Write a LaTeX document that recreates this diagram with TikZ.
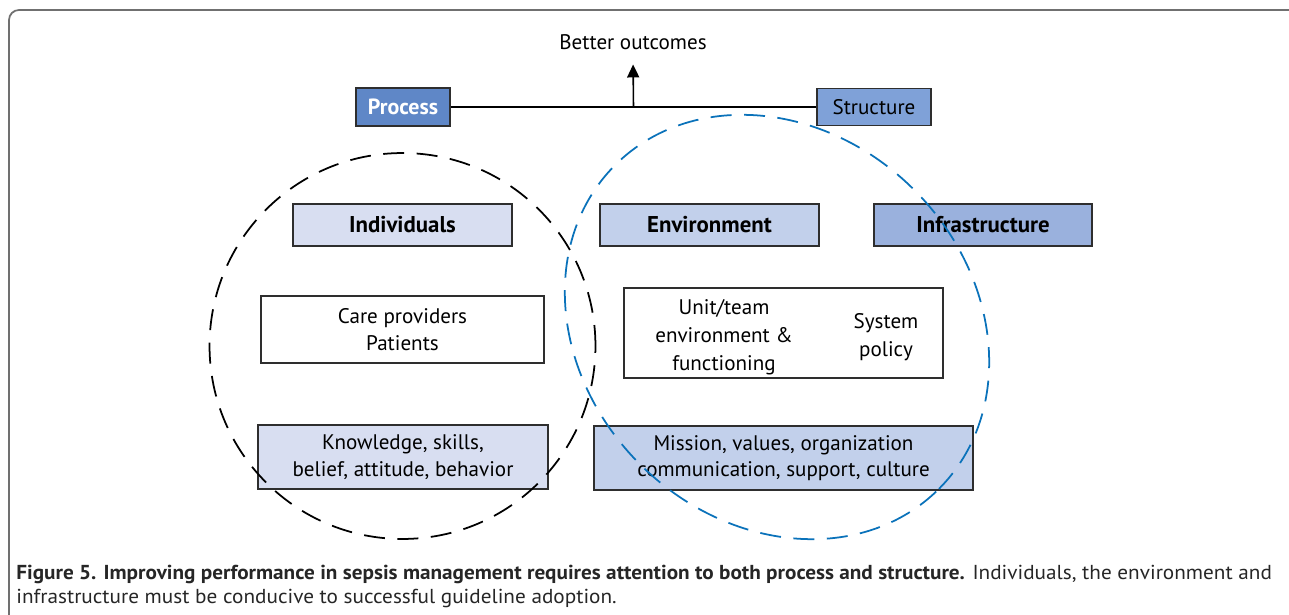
\documentclass[tikz,border=0pt]{standalone}
\usepackage{fontspec}
\setmainfont{PT Sans}
\newfontfamily\capfont[FakeStretch=1.05]{PT Sans}
\usetikzlibrary{arrows.meta,shapes.geometric,positioning}

\definecolor{procblue}{HTML}{5F87C7}
\definecolor{strucblue}{HTML}{7FA1D8}
\definecolor{infrablue}{HTML}{9AB1DD}
\definecolor{envblue}{HTML}{C2D0EB}
\definecolor{indblue}{HTML}{D8DEF1}
\definecolor{ringblue}{HTML}{0A72BA}
\definecolor{boxline}{HTML}{2E2E2E}
\definecolor{framegray}{HTML}{707070}

\newcommand{\boxfont}{\fontsize{12}{15.2}\selectfont}
\newcommand{\headfont}{\fontsize{13}{15.2}\selectfont\bfseries}

\tikzset{
  cellbox/.style={draw=boxline, line width=0.9pt, inner sep=0pt, align=center, font=\boxfont},
  headbox/.style={cellbox, minimum width=4.38cm, minimum height=0.84cm, font=\headfont},
  dashring/.style={draw, line width=1pt, dash pattern=on 0.42cm off 0.25cm, inner sep=0pt},
}

\begin{document}
\begin{tikzpicture}[x=0.02cm, y=-0.02cm]

\useasboundingbox (0,0) rectangle (1289,615);

\draw [framegray, line width=1pt, rounded corners=0.2cm] (9,615) -- (9,10) -- (1289,10);

\node [cellbox, fill=procblue, text=white, font=\fontsize{12.5}{15}\selectfont\bfseries, minimum width=1.88cm, minimum height=0.76cm] (process) at (403,107) {Process};
\node [cellbox, fill=strucblue, minimum width=2.28cm, minimum height=0.74cm] (structure) at (874,107) {Structure};
\node [anchor=base, font=\boxfont] (better) at (633,50) {Better outcomes};

\node [headbox, fill=indblue] (individuals) at (402.5,225) {Individuals};
\node [headbox, fill=envblue] (environment) at (709.5,225) {Environment};
\node [headbox, fill=infrablue, minimum width=4.36cm] (infrastructure) at (983,225) {Infrastructure};

\node [cellbox, fill=white, minimum width=5.66cm, minimum height=1.34cm] (care) at (402.5,329.5) {Care providers\\Patients};
\node [cellbox, fill=white, minimum width=6.38cm, minimum height=1.8cm] (unit) at (783.5,333) {};
\node [align=center, font=\fontsize{12}{15.8}\selectfont] (unitteam) at (724,337) {Unit/team\\environment \&\\functioning};
\node [align=center, font=\fontsize{12}{15.8}\selectfont] (policy) at (886,337) {System\\policy};

\node [cellbox, fill=indblue, minimum width=5.8cm, minimum height=1.28cm] (knowledge) at (403,457) {Knowledge, skills,\\belief, attitude, behavior};
\node [cellbox, fill=envblue, minimum width=7.58cm, minimum height=1.28cm] (mission) at (783.5,458) {Mission, values, organization\\communication, support, culture};

\begin{scope}[line width=0.9pt]
\draw (process.east) -- (process.east -| structure.west) coordinate [pos=0.5] (join); %process-structure
\draw [-{Triangle[length=0.26cm, width=0.24cm]}, shorten >=0.16cm] (join) -- (better.south); %join-better
\end{scope}

\node [dashring, circle, minimum size=7.72cm] (indring) at (402.5,346) {};
\node [dashring, draw=ringblue, ellipse, minimum width=9.16cm, minimum height=7.76cm, rotate=-45] (envring) at (777,327) {};

\node [anchor=north west, align=left, inner sep=0pt, font=\capfont\fontsize{11.5}{13.7}\selectfont, text=black!85] (caption) at (16,565) {\textbf{Figure 5. Improving performance in sepsis management requires attention to both process and structure.} Individuals, the environment and\\infrastructure must be conducive to successful guideline adoption.};

\end{tikzpicture}
\end{document}
